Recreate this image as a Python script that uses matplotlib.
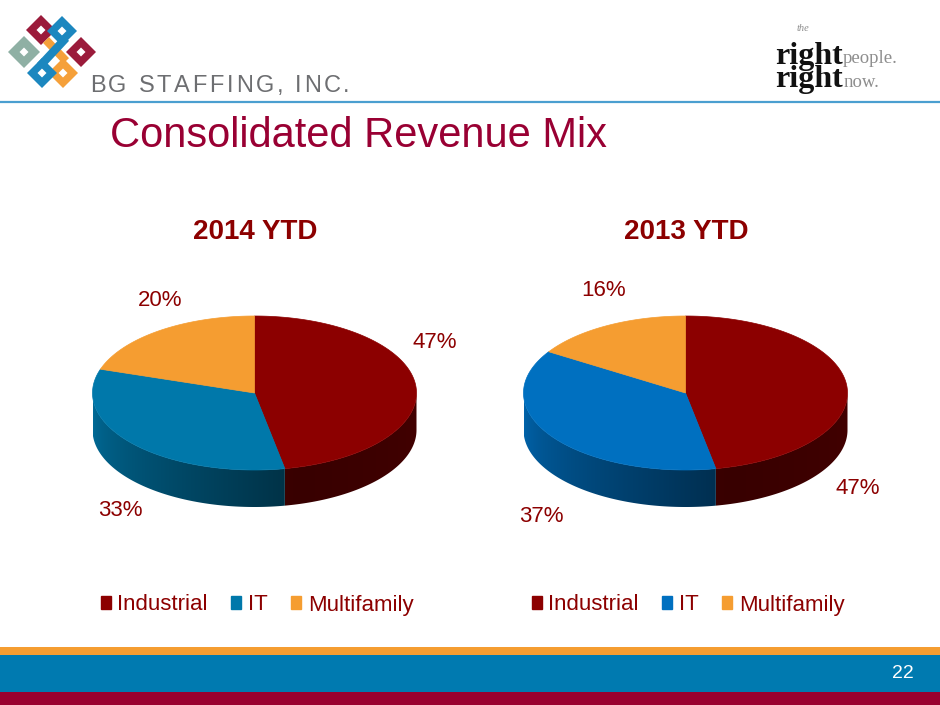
import numpy as np
import matplotlib
matplotlib.use("Agg")
import matplotlib.pyplot as plt
from matplotlib.patches import Polygon, Rectangle, Patch, PathPatch
from matplotlib.path import Path
from matplotlib.colors import to_rgb

# ---------------- data ----------------
categories = ["Industrial", "IT", "Multifamily"]
values_2014 = [47, 33, 20]
values_2013 = [47, 37, 16]
chart_titles = ["2014 YTD", "2013 YTD"]
slide_title = "Consolidated Revenue Mix"
page_number = "22"

colors_2014 = ["#8C0000", "#0078AA", "#F59D31"]
colors_2013 = ["#8C0000", "#0070C0", "#F59D31"]

plt.rcParams['font.family'] = ['Liberation Sans', 'DejaVu Sans']

fig = plt.figure(figsize=(9.4, 7.05), dpi=100)
ax = fig.add_axes([0, 0, 1, 1])
ax.axis('off')

RED = "#8C0000"
TITLE_RED = "#990033"


def shade(theta_deg):
    return np.interp(theta_deg, [180, 285, 360], [0.90, 0.40, 0.48])


def pie3d(ax, cx, cy, a, b, depth, values, colors):
    total = float(sum(values))
    start = 90.0
    spans = []
    for v in values:
        end = start - 360.0 * v / total
        spans.append((end, start))
        start = end
    # side walls (front half only) with horizontal gradient
    xs = np.linspace(cx - a, cx + a, 600)
    th = 360.0 - np.degrees(np.arccos(np.clip((xs - cx) / a, -1, 1)))
    fac = shade(th)
    for (lo, hi), col in zip(spans, colors):
        ts = np.linspace(lo, hi, 800)
        keep = np.sin(np.radians(ts)) < 0
        if keep.sum() < 2:
            continue
        ts = np.radians(ts[keep])
        top = [(cx + a * np.cos(t), cy - b * np.sin(t)) for t in ts]
        bot = [(x, y + depth) for x, y in top[::-1]]
        poly = Polygon(top + bot, closed=True, facecolor='none', edgecolor='none')
        ax.add_patch(poly)
        base = np.array(to_rgb(col))
        img = np.clip(base[None, None, :] * fac[None, :, None], 0, 1)
        im = ax.imshow(img, extent=(cx - a, cx + a, cy + b + depth + 2, cy - 10),
                       aspect='auto', interpolation='bilinear', zorder=1)
        im.set_clip_path(poly)
    # top surfaces
    for (lo, hi), col in zip(spans, colors):
        ts = np.radians(np.linspace(hi, lo, 200))
        pts = [(cx, cy)] + [(cx + a * np.cos(t), cy - b * np.sin(t)) for t in ts]
        ax.add_patch(Polygon(pts, closed=True, facecolor=col, edgecolor=col, lw=0.5, zorder=2))


# ---- pies ----
pie3d(ax, 254.5, 393, 162, 77, 37, values_2014, colors_2014)
pie3d(ax, 685.5, 393, 162, 77, 37, values_2013, colors_2013)

# percent labels
label_pos_2014 = [(435, 342), (120, 511), (160, 301)]
label_pos_2013 = [(858, 489), (541, 517), (604, 291)]
for vals, poss in ((values_2014, label_pos_2014), (values_2013, label_pos_2013)):
    for v, (x, y) in zip(vals, poss):
        ax.text(x, y, f"{v}%", color=RED, fontsize=16, ha='center', va='center')

# chart titles
for t, x in zip(chart_titles, [255, 686]):
    ax.text(x, 232, t, color=RED, fontsize=20, fontweight='bold', ha='center', va='center')

# legends
for cols, xc in ((colors_2014, 257 / 940), (colors_2013, 688 / 940)):
    handles = [Patch(facecolor=c, edgecolor=c) for c in cols]
    fig.legend(handles, categories, loc='center', bbox_to_anchor=(xc, 1 - 605 / 705),
               ncol=3, frameon=False, fontsize=16, handlelength=0.45, handleheight=0.5,
               handletextpad=0.3, columnspacing=1.05, labelcolor=RED)

# slide title
ax.text(110, 136, slide_title, color=TITLE_RED, fontsize=30, ha='left', va='center')

# header line
ax.plot([0, 940], [102, 102], color="#4A9FD0", lw=1.6, solid_capstyle='butt')

ax.set_xlim(0, 940)
ax.set_ylim(705, 0)

# company name with letter spacing
renderer = fig.canvas.get_renderer()
x = 90
for ch in "BG STAFFING, INC.":
    if ch == " ":
        x += 17 * 100 / 72 * 0.278 + 2.7
        continue
    t = ax.text(x, 92, ch, color="#6D6E71", fontsize=17, ha='left', va='baseline')
    x += t.get_window_extent(renderer=renderer).width + 2.7


# logo knot
def ring(cx, cy, r_out, r_in, col):
    outer = [(cx, cy - r_out), (cx + r_out, cy), (cx, cy + r_out), (cx - r_out, cy), (cx, cy - r_out)]
    inner = [(cx, cy - r_in), (cx - r_in, cy), (cx, cy + r_in), (cx + r_in, cy), (cx, cy - r_in)]
    verts = outer + inner
    codes = [Path.MOVETO] + [Path.LINETO] * 3 + [Path.CLOSEPOLY] + [Path.MOVETO] + [Path.LINETO] * 3 + [Path.CLOSEPOLY]
    ax.add_patch(PathPatch(Path(verts, codes), facecolor=col, edgecolor='none'))


MAROON = "#9B1B3B"
BLUE = "#1C87BF"
GRAY = "#8FB0A4"
ORANGE = "#F5A03A"
ring(24, 52, 16, 4.5, GRAY)
ring(41, 30, 15, 4.5, MAROON)
ring(62, 31, 15, 4.5, BLUE)
ring(81, 52, 15, 4.5, MAROON)
ax.plot([46, 66], [40, 61], color=ORANGE, lw=6, solid_capstyle='butt')
ax.plot([66, 40], [38, 66], color=BLUE, lw=6, solid_capstyle='butt')
ring(63, 73, 15, 4.5, ORANGE)
ring(42, 73, 15, 4.5, BLUE)

# right-hand tagline logo
serif = ['Liberation Serif', 'DejaVu Serif']
ax.text(775, 87, "right\nright", family=serif, fontsize=23, fontweight='bold', color="#111111",
        va='baseline', ha='left', linespacing=0.72, multialignment='left')
ax.text(843, 63, "people.", family=serif, fontsize=13.5, color="#8E8E8E", va='baseline')
ax.text(844, 87, "now.", family=serif, fontsize=13.5, color="#8E8E8E", va='baseline')
ax.text(797, 31, "the", family=serif, fontsize=7.5, style='italic', color="#8E8E8E", va='baseline')

# footer bands
ax.add_patch(Rectangle((0, 647), 940, 8, facecolor="#F59D31", edgecolor='none'))
ax.add_patch(Rectangle((0, 655), 940, 37, facecolor="#007AB0", edgecolor='none'))
ax.add_patch(Rectangle((0, 692), 940, 13, facecolor="#99002F", edgecolor='none'))
ax.text(903, 674, page_number, color="white", fontsize=14, ha='center', va='center')

fig.savefig("out.png", dpi=100)
